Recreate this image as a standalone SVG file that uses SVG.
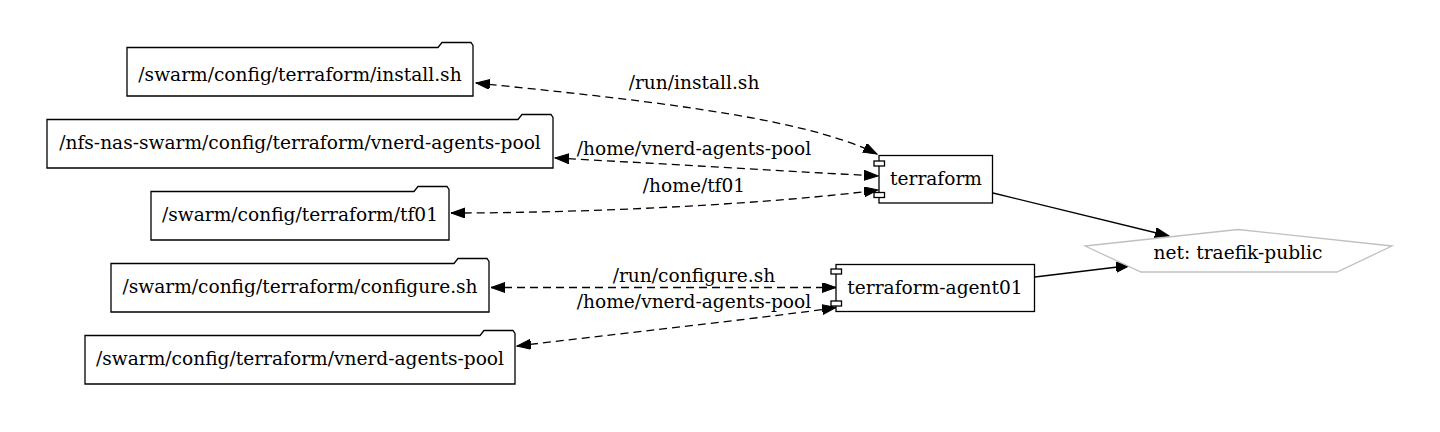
<svg xmlns="http://www.w3.org/2000/svg" width="1440" height="432" viewBox="0 0 1440 432">
<style>
text{font-family:"DejaVu Serif","Liberation Serif",serif;font-size:18.6px;fill:#000;text-anchor:middle}
.n{fill:#fff;stroke:#000;stroke-width:1.3}
.net{fill:#fff;stroke:#c0c0c0;stroke-width:1.3}
.e{fill:none;stroke:#000;stroke-width:1.3}
.d{stroke-dasharray:8,5}
</style>
<defs>
<marker id="ah" markerUnits="userSpaceOnUse" markerWidth="15" markerHeight="11" refX="14" refY="5" orient="auto-start-reverse" viewBox="0 0 15 11">
<path d="M0,0 L14,5 L0,10 Z" fill="#000" stroke="#000" stroke-width="1"/>
</marker>
</defs>
<rect width="1440" height="432" fill="#fff"/>
<g id="connectors">
<path class="e d" d="M476,83 C620,98 800,115 877,154" marker-start="url(#ah)" marker-end="url(#ah)"/>
<path class="e d" d="M555,158 C650,163 800,172 878,176" marker-start="url(#ah)" marker-end="url(#ah)"/>
<path class="e d" d="M451,213 C600,213 780,203 878,190" marker-start="url(#ah)" marker-end="url(#ah)"/>
<path class="e d" d="M491,287.5 L836,287.5" marker-start="url(#ah)" marker-end="url(#ah)"/>
<path class="e d" d="M517,346 C650,330 780,316 836,307.5" marker-start="url(#ah)" marker-end="url(#ah)"/>
<path class="e" d="M993,193 L1169,236" marker-end="url(#ah)"/>
<path class="e" d="M1035,277 L1130,265.5" marker-end="url(#ah)"/>
<text x="694" y="89">/run/install.sh</text>
<text x="694" y="155">/home/vnerd-agents-pool</text>
<text x="694" y="192">/home/tf01</text>
<text x="694" y="282">/run/configure.sh</text>
<text x="694" y="308">/home/vnerd-agents-pool</text>
</g>
<g id="install">
<path class="n" d="M127,47.5 H438 L442,42.5 H471 L473,45.5 V96 H127 Z"/>
<text x="300" y="81">/swarm/config/terraform/install.sh</text>
</g>
<g id="nfs-pool">
<path class="n" d="M47,119.5 H518 L522,114.5 H551 L553,117.5 V168 H47 Z"/>
<text x="300" y="149">/nfs-nas-swarm/config/terraform/vnerd-agents-pool</text>
</g>
<g id="tf01">
<path class="n" d="M151,191.5 H414 L418,186.5 H447 L449,189.5 V240 H151 Z"/>
<text x="300" y="221">/swarm/config/terraform/tf01</text>
</g>
<g id="configure">
<path class="n" d="M111,263.5 H454 L458,258.5 H487 L489,261.5 V312 H111 Z"/>
<text x="300" y="293">/swarm/config/terraform/configure.sh</text>
</g>
<g id="swarm-pool">
<path class="n" d="M85,335.5 H480 L484,330.5 H513 L515,333.5 V384 H85 Z"/>
<text x="300" y="365">/swarm/config/terraform/vnerd-agents-pool</text>
</g>
<g id="terraform">
<rect class="n" x="879" y="155.5" width="113.5" height="47.5"/>
<rect class="n" x="874" y="161" width="10.5" height="5"/>
<rect class="n" x="874" y="192.5" width="10.5" height="5"/>
<text x="936" y="185">terraform</text>
</g>
<g id="terraform-agent01">
<rect class="n" x="836" y="264.5" width="198.5" height="47"/>
<rect class="n" x="831" y="269" width="10.5" height="5"/>
<rect class="n" x="831" y="301" width="10.5" height="5"/>
<text x="935" y="294">terraform-agent01</text>
</g>
<g id="net">
<polygon class="net" points="1238,229.5 1392,246 1337,272 1141,272 1085,246"/>
<text x="1238" y="259">net: traefik-public</text>
</g>
</svg>
